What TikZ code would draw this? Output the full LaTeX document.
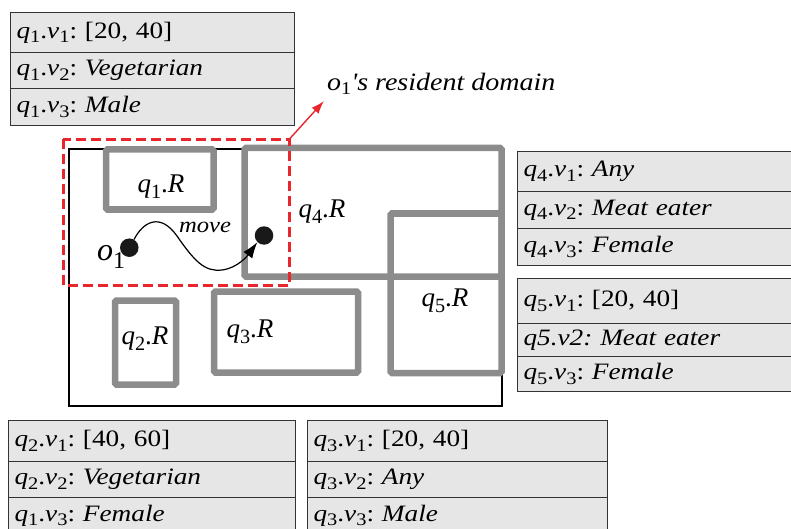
\documentclass[tikz,border=0pt]{standalone}
\usepackage{fontspec}
\usepackage{graphicx}
\setmainfont{Liberation Serif}
\newfontfamily\widefont[FakeStretch=1.12]{Liberation Serif}
\newfontfamily\tabfont[FakeStretch=1.16]{Liberation Serif}
\usetikzlibrary{arrows.meta}
\definecolor{tabfill}{HTML}{E6E6E6}
\definecolor{tabline}{HTML}{333333}
\definecolor{regray}{HTML}{8C8C8C}
\definecolor{domred}{HTML}{E8262B}
\newcommand\ssub[1]{\raisebox{-0.2em}{\scalebox{0.75}{#1}}}
\newcommand\qv[2]{\textit{q}\ssub{#1}.\textit{v}\ssub{#2}}
\newcommand\qr[1]{\textit{q}\ssub{#1}.\textit{R}}
\frenchspacing
\begin{document}
\begin{tikzpicture}[x=1pt,y=-1pt,
  tabrow/.style n args={2}{draw=tabline, fill=tabfill, line width=1.1pt, anchor=north west,
     text width=#1, minimum height=#2, inner xsep=6pt, inner ysep=0pt, align=left,
     font=\tabfont\fontsize{23.5}{25}\selectfont},
  region/.style={draw=regray, line width=6.5pt, rounded corners=1.5pt},
  rlabel/.style={font=\fontsize{27}{29}\selectfont, inner sep=0pt},
  dot/.style={circle, fill=black!90, minimum size=18.5pt, inner sep=0pt},
]
\useasboundingbox (0,0) rectangle (791,529);

% q1 table
\node[tabrow={272pt}{40pt}] (t1a) at (10,12) {\qv11: [20, 40]};
\node[tabrow={272pt}{36pt}] (t1b) at (10,52) {\qv12: \textit{Vegetarian}};
\node[tabrow={272pt}{37pt}] (t1c) at (10,88) {\qv13: \textit{Male}};

% q4 table
\node[tabrow={268pt}{40pt}] (t4a) at (517,151) {\qv41: \textit{Any}};
\node[tabrow={268pt}{37pt}] (t4b) at (517,191) {\qv42: \textit{Meat eater}};
\node[tabrow={268pt}{37pt}] (t4c) at (517,228) {\qv43: \textit{Female}};

% q5 table
\node[tabrow={268pt}{45pt}] (t5a) at (517,278) {\raisebox{-6pt}{\qv51: [20, 40]}};
\node[tabrow={268pt}{33pt}] (t5b) at (517,323) {\textit{q5.v2: Meat eater}};
\node[tabrow={268pt}{35pt}] (t5c) at (517,356) {\qv53: \textit{Female}};

% q2 table
\node[tabrow={275pt}{41pt}] (t2a) at (8,420) {\qv21: [40, 60]};
\node[tabrow={275pt}{36pt}] (t2b) at (8,461) {\qv22: \textit{Vegetarian}};
\node[tabrow={275pt}{36pt}] (t2c) at (8,497) {\qv13: \textit{Female}};

% q3 table
\node[tabrow={288pt}{41pt}] (t3a) at (307,420) {\qv31: [20, 40]};
\node[tabrow={288pt}{36pt}] (t3b) at (307,461) {\qv32: \textit{Any}};
\node[tabrow={288pt}{36pt}] (t3c) at (307,497) {\qv33: \textit{Male}};

% space
\draw[line width=2pt, black] (69,149) rectangle (502,406);

% regions
\draw[region] (106,149.5) rectangle (213.5,209.5);
\draw[region] (244.5,148) rectangle (501.5,276.5);
\draw[region] (390.5,213.5) rectangle (501.5,373);
\draw[region] (115,300.5) rectangle (176,384.5);
\draw[region] (214,291.5) rectangle (358,372.5);

\node[rlabel] (l1) at (161,187) {\qr1};
\node[rlabel] (l4) at (322,212) {\qr4};
\node[rlabel] (l5) at (445,301) {\qr5};
\node[rlabel] (l2) at (145,339) {\qr2};
\node[rlabel] (l3) at (250,332) {\qr3};

% object
\node[dot] (d1) at (129.3,247.7) {};
\node[dot] (d2) at (264,235.5) {};
\node[inner sep=0pt, font=\fontsize{32}{34}\selectfont] (o1) at (111,257) {\textit{o}\raisebox{-8pt}{\fontsize{24}{24}\selectfont 1}};
\draw[line width=1.2pt, -{Latex[length=16pt,width=11pt]}]
  (d1.60) .. controls (143,222) and (160,212) .. (177,236)
  .. controls (195,262) and (205,272) .. (222,270)
  .. controls (238,268) and (248,255) .. (d2.-135);
\node[inner sep=0pt, font=\widefont\fontsize{22}{22}\selectfont\itshape] (mv) at (205,227) {move};

% resident domain
\draw[domred, line width=3pt, dash pattern=on 10pt off 5pt] (63,139.5) rectangle (289,285);
\coordinate (dc) at (289,139.5);
\coordinate (at) at (324,101);
\draw[domred, line width=1.4pt, -{Latex[length=13pt,width=9pt]}] (dc) -- (at);
\node[anchor=west, inner sep=0pt, font=\widefont\fontsize{25}{26}\selectfont\itshape] (rd) at (327,84)
  {o\raisebox{-4pt}{\upshape\fontsize{18}{18}\selectfont 1}'s resident domain};
\end{tikzpicture}
\end{document}
